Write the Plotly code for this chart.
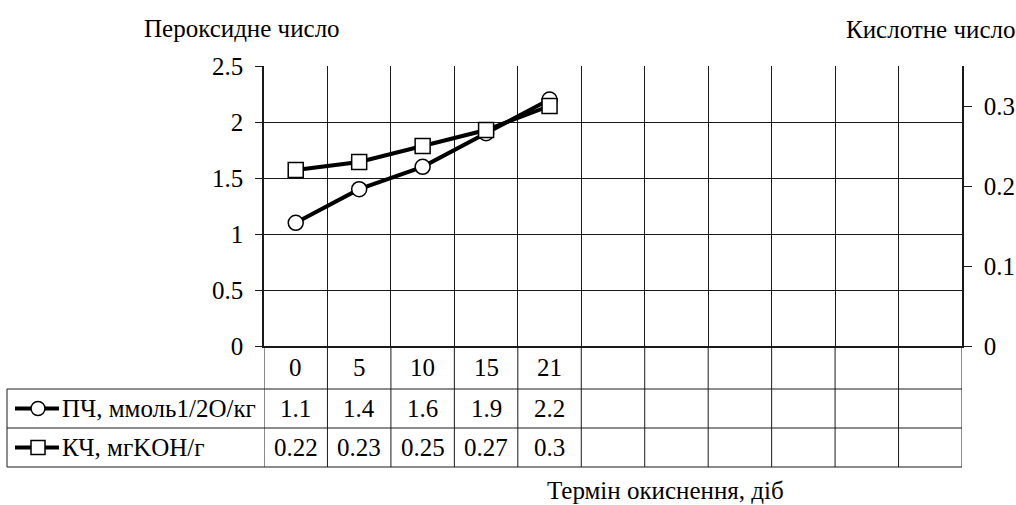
import plotly.graph_objects as go

# ---- data ----
days = ["0", "5", "10", "15", "21"]
n_columns = 11
pv = [1.1, 1.4, 1.6, 1.9, 2.2]          # ПЧ, ммоль1/2O/кг
av = [0.22, 0.23, 0.25, 0.27, 0.3]      # КЧ, мгKOH/г
pv_name = "ПЧ, ммоль1/2O/кг"
av_name = "КЧ, мгKOH/г"
left_ticks = [0, 0.5, 1, 1.5, 2, 2.5]
right_ticks = [0, 0.1, 0.2, 0.3]
left_title = "Пероксидне число"
right_title = "Кислотне число"
x_title = "Термін окиснення, діб"

W, H = 1016, 505
L, R, T, B = 264, 962, 66, 346
FONT = "Liberation Serif, Times New Roman, serif"
FS = 25
LC = "#1a1a1a"

def px(x):
    return (x - L) / (R - L)

def py(y):
    return (B - y) / (B - T)

xi = list(range(len(days)))

fig = go.Figure()
fig.add_trace(go.Scatter(
    x=xi, y=pv, mode="lines+markers", name=pv_name, yaxis="y",
    line=dict(color="black", width=4),
    marker=dict(symbol="circle", size=15, color="white", line=dict(color="black", width=1.5)),
))
fig.add_trace(go.Scatter(
    x=xi, y=av, mode="lines+markers", name=av_name, yaxis="y2",
    line=dict(color="black", width=4),
    marker=dict(symbol="square", size=15, color="white", line=dict(color="black", width=1.5)),
))

fig.update_layout(
    width=W, height=H,
    margin=dict(l=L, r=W - R, t=T, b=H - B, pad=0),
    paper_bgcolor="white", plot_bgcolor="white",
    showlegend=False,
    font=dict(family=FONT, size=FS, color="black"),
    xaxis=dict(
        range=[-0.5, n_columns - 0.5],
        tickvals=[i - 0.5 for i in range(n_columns + 1)],
        showticklabels=False, ticks="",
        showgrid=True, gridcolor=LC, gridwidth=1,
        showline=True, linecolor=LC, linewidth=1.5,
        zeroline=False, fixedrange=True, automargin=False,
    ),
    yaxis=dict(
        range=[0, 2.5], tickvals=left_ticks,
        ticktext=[f"{v:g}" for v in left_ticks],
        ticks="outside", ticklen=7, tickcolor=LC, tickwidth=1,
        ticklabelstandoff=7,
        showgrid=True, gridcolor=LC, gridwidth=1,
        showline=True, linecolor=LC, linewidth=1.5,
        zeroline=False, automargin=False,
    ),
    yaxis2=dict(
        range=[0, 0.35], tickvals=right_ticks,
        ticktext=[f"{v:g}" for v in right_ticks],
        overlaying="y", side="right",
        ticks="outside", ticklen=8, tickcolor=LC, tickwidth=1,
        ticklabelstandoff=7,
        showgrid=False, showline=True, linecolor=LC, linewidth=1.5,
        zeroline=False, automargin=False,
    ),
)

shapes = []
anns = []

def note(x, y, text, xref="paper", xanchor="center"):
    anns.append(dict(x=x, y=y, xref=xref, yref="paper", text=text,
                     xanchor=xanchor, yanchor="middle", showarrow=False,
                     font=dict(size=FS)))

# table geometry (pixels)
row_lines = [389, 428, 467]
table_left = 7

# vertical column lines through the table
for i in range(n_columns + 1):
    shapes.append(dict(type="line", xref="x", yref="paper",
                       x0=i - 0.5, x1=i - 0.5, y0=0, y1=py(row_lines[-1]),
                       line=dict(color=LC, width=1)))
# horizontal table lines
for yl in row_lines:
    shapes.append(dict(type="line", xref="paper", yref="paper",
                       x0=px(table_left), x1=1, y0=py(yl), y1=py(yl),
                       line=dict(color=LC, width=1)))
# left border of header box
shapes.append(dict(type="line", xref="paper", yref="paper",
                   x0=px(table_left), x1=px(table_left),
                   y0=py(row_lines[0]), y1=py(row_lines[-1]),
                   line=dict(color=LC, width=1)))

# category labels
cat_y = py((B + row_lines[0]) / 2)
for i, d in enumerate(days):
    note(i, cat_y, d, xref="x")
# values rows
rows = [(pv, (row_lines[0] + row_lines[1]) / 2), (av, (row_lines[1] + row_lines[2]) / 2)]
for vals, yc in rows:
    for i, v in enumerate(vals):
        note(i, py(yc), f"{v:g}", xref="x")

# legend keys in header column
for (name, sym, yc) in [(pv_name, "circle", (row_lines[0] + row_lines[1]) / 2),
                        (av_name, "square", (row_lines[1] + row_lines[2]) / 2)]:
    shapes.append(dict(type="line", xref="paper", yref="paper",
                       x0=px(15), x1=px(59), y0=py(yc), y1=py(yc),
                       line=dict(color="black", width=4)))
    r = 7
    shapes.append(dict(type=sym if sym == "circle" else "rect", xref="paper", yref="paper",
                       x0=px(38 - r), x1=px(38 + r), y0=py(yc - r), y1=py(yc + r),
                       fillcolor="white", line=dict(color="black", width=1.5)))
    note(px(60), py(yc), name, xanchor="left")

# axis titles
note(px(242), py(28), left_title)
note(px(930), py(29), right_title)
note(px(665), py(490), x_title)

fig.update_layout(shapes=shapes, annotations=anns)
fig.write_html("out.html",
               config={"displayModeBar": False},
               post_script="document.body.style.margin='0';document.body.style.overflow='hidden';")
